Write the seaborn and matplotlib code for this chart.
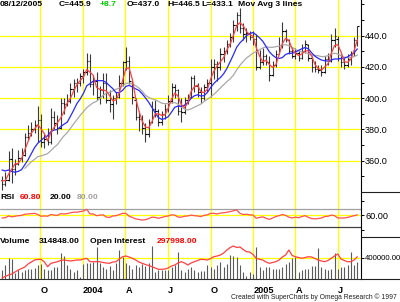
import numpy as np
import pandas as pd
import matplotlib
matplotlib.use("Agg")
import matplotlib.pyplot as plt
import matplotlib.dates as mdates
from matplotlib.lines import Line2D
from matplotlib.ticker import FixedLocator, MultipleLocator
import seaborn as sns

sns.set_theme(style="white")
plt.rcParams["font.family"] = ["Liberation Sans", "DejaVu Sans"]

# ---------------- data (weekly bars) ----------------
dates = pd.date_range("2003-07-11", periods=110, freq="7D")

opens = [348, 345, 348, 361, 355, 358, 362, 364, 375, 378,
         380, 383, 386, 372, 374, 372, 388, 384, 381, 397,
         396, 398, 406, 410, 410, 414, 417, 424, 409, 411,
         401, 405, 410, 399, 396, 400, 401, 410, 423, 424,
         410, 399, 388, 387, 381, 377, 385, 393, 392, 385,
         390, 393, 398, 407, 405, 392, 391, 399, 401, 413,
         408, 404, 400, 407, 410, 420, 422, 420, 428, 430,
         435, 439, 447, 453, 445, 441, 442, 439, 438, 420,
         423, 427, 423, 415, 421, 428, 434, 443, 437, 430,
         427, 429, 426, 430, 434, 426, 420, 419, 418, 417,
         425, 424, 437, 438, 426, 423, 421, 425, 429, 437.0]
highs = [350, 353, 366, 368, 361, 367, 368, 378, 383, 385,
         386, 395, 390, 377, 381, 394, 392, 389, 400, 400,
         403, 410, 412, 413, 416, 419, 429, 428, 415, 417,
         408, 416, 416, 405, 402, 404, 415, 424, 433, 427,
         411, 400, 392, 389, 384, 387, 398, 399, 393, 392,
         396, 402, 410, 409, 406, 400, 401, 403, 414, 415,
         410, 407, 409, 412, 425, 425, 424, 432, 433, 437,
         442, 450, 455, 458, 448, 445, 443, 443, 441, 431,
         432, 428, 427, 424, 431, 439, 449, 444, 438, 433,
         432, 431, 435, 437, 435, 427, 424, 421, 421, 427,
         429, 441, 445, 440, 428, 426, 428, 430, 439, 446.5]
lows = [341, 344, 347, 346, 351, 357, 359, 363, 373, 376,
        378, 372, 369, 368, 370, 371, 380, 377, 380, 390,
        395, 397, 401, 404, 408, 410, 415, 407, 402, 399,
        396, 400, 397, 391, 387, 396, 400, 408, 418, 409,
        396, 386, 379, 377, 372, 375, 384, 388, 382, 383,
        387, 391, 397, 400, 389, 385, 390, 396, 400, 404,
        401, 397, 399, 404, 401, 412, 411, 418, 423, 428,
        433, 436, 443, 442, 437, 436, 437, 434, 418, 419,
        421, 421, 411, 414, 420, 428, 432, 436, 428, 426,
        425, 424, 425, 429, 424, 417, 417, 416, 414, 416,
        421, 423, 433, 424, 420, 419, 420, 421, 427, 433.1]
closes = [345, 348, 361, 355, 358, 362, 364, 375, 378, 380,
          383, 386, 372, 374, 372, 388, 384, 381, 397, 396,
          398, 406, 410, 410, 414, 417, 424, 409, 411, 401,
          405, 410, 399, 396, 400, 401, 410, 423, 424, 411,
          401, 388, 387, 381, 377, 385, 393, 392, 385, 390,
          393, 398, 407, 405, 392, 391, 399, 401, 413, 408,
          404, 400, 407, 410, 420, 422, 420, 428, 430, 435,
          439, 447, 453, 445, 441, 442, 439, 438, 420, 423,
          427, 423, 415, 421, 428, 434, 443, 438, 430, 427,
          429, 426, 430, 435, 426, 420, 419, 418, 417, 425,
          424, 437, 440, 426, 423, 421, 425, 429, 437.2, 445.9]
# closes of the ten weeks before the window (lead-in for the moving averages)
prior_closes = [340, 343, 354, 355, 364, 362, 357, 354, 347, 349]
ma_periods = [3, 9, 18]

rsi = [50, 51, 57, 54, 56, 58, 59, 63, 64, 65,
       66, 62, 56, 57, 56, 62, 60, 59, 65, 64,
       65, 68, 70, 70, 72, 74, 80, 64, 64, 58,
       60, 61, 53, 52, 57, 58, 62, 66, 66, 56,
       52, 47, 45, 43, 44, 48, 53, 52, 49, 52,
       55, 57, 61, 60, 53, 53, 56, 57, 60, 58,
       57, 55, 59, 61, 66, 66, 64, 67, 68, 70,
       72, 75, 78, 66, 62, 63, 61, 60, 49, 52,
       54, 49, 45, 50, 55, 58, 62, 59, 53, 50,
       53, 51, 55, 58, 52, 48, 47, 48, 50, 55,
       56, 60, 58, 50, 50, 50, 52, 55, 58, 60.8]

volume_k = [169, 260, 390, 380, 113, 169, 138, 169, 200, 190,
            210, 263, 280, 200, 169, 180, 232, 232, 480, 432,
            263, 200, 138, 169, 50, 290, 295, 295, 325, 607,
            295, 232, 200, 245, 169, 295, 544, 407, 295, 263,
            200, 263, 232, 280, 245, 295, 610, 138, 169, 180,
            169, 180, 232, 263, 500, 169, 138, 200, 232, 169,
            138, 150, 150, 263, 232, 200, 263, 325, 232, 290,
            450, 430, 420, 263, 138, 56, 138, 100, 607, 232,
            169, 232, 232, 200, 200, 200, 232, 280, 325, 400,
            420, 138, 169, 185, 185, 250, 250, 576, 232, 200,
            169, 200, 482, 200, 232, 232, 263, 513, 263, 314.848]

open_interest_k = [151, 161.4, 171.7, 178.6, 192.4, 206.2, 216.6, 226.9, 247.6, 261.4,
                   275.2, 278.7, 280.1, 261.4, 229, 252.5, 258, 263.5, 271.8, 275.2,
                   271.8, 268.3, 271.8, 275.2, 275.2, 282.1, 287, 263.5, 263.5, 263.5,
                   263.5, 258, 254.5, 252.5, 261.4, 263.5, 282.1, 298, 302.8, 295.9,
                   287, 275.2, 261.4, 252.5, 244.2, 237.3, 229, 220, 211, 211,
                   213.1, 220, 233.8, 240.7, 254.5, 263.5, 254.5, 240.7, 254.5, 263.5,
                   271.8, 280.1, 278.7, 275.2, 285.6, 298, 302.8, 309.7, 323.5, 344.2,
                   361.5, 371.8, 361.5, 364.9, 347.7, 332.5, 330.4, 313.2, 287, 280.1,
                   275.2, 261.4, 252.5, 258, 263.5, 275.2, 295.9, 309.7, 344.2, 306.3,
                   298, 292.5, 287, 292.5, 298, 295.9, 285.6, 275.2, 268.3, 263.5,
                   271.8, 287, 302.8, 316.6, 282.1, 271.8, 263.5, 263.5, 275.2, 297.998]

quarter_dates = ["2003-10-01", "2004-01-01", "2004-04-01", "2004-07-01",
                 "2004-10-01", "2005-01-01", "2005-04-01", "2005-07-01"]
quarter_labels = ["O", "2004", "A", "J", "O", "2005", "A", "J"]
price_ticks = [360, 380, 400, 420, 440]

# ---------------- derived series ----------------
full_close = pd.Series(prior_closes + closes, dtype=float)
mas = [full_close.rolling(p).mean().iloc[len(prior_closes):].to_numpy() for p in ma_periods]
ma_colors = ["#FF4040", "#2828FF", "#A8A8A8"]

# ---------------- figure layout (pixel based) ----------------
W, H = 400, 302
fig = plt.figure(figsize=(W / 100, H / 100), dpi=100)
fig.patch.set_facecolor("white")


def rect(x0, y0, x1, y1):
    return [x0 / W, 1 - y1 / H, (x1 - x0) / W, (y1 - y0) / H]


ax_p = fig.add_axes(rect(0, 0, 361, 191.7))
ax_r = fig.add_axes(rect(0, 191.7, 361, 236.7))
ax_v = fig.add_axes(rect(0, 236.7, 361, 279.3))

# open-interest overlay on its own scale (created first so its twinx call
# does not move the volume ticks afterwards)
ax_oi = ax_v.twinx()

d0 = mdates.date2num(dates[0])
xlim = (d0 - 4.3, d0 + 770.9)
qnums = mdates.date2num(pd.to_datetime(quarter_dates))
YEL = "#FFFF00"

for ax in (ax_p, ax_r, ax_v):
    ax.set_facecolor("white")
    ax.set_xlim(*xlim)
    ax.xaxis.set_major_locator(FixedLocator(qnums))
    ax.grid(True, which="major", color=YEL, lw=0.9)
    ax.set_axisbelow(True)
    for s in ("top", "left", "bottom"):
        ax.spines[s].set_visible(False)
    ax.spines["right"].set_visible(True)
    ax.spines["right"].set_color("black")
    ax.spines["right"].set_linewidth(0.8)
    ax.yaxis.tick_right()
    ax.tick_params(axis="y", which="both", direction="out", length=2.5, width=0.7,
                   colors="black", pad=0.5, labelsize=6.6, labelleft=False, labelright=True,
                   left=False, right=True)
    ax.tick_params(axis="y", which="minor", length=2.0)

# ---------------- price panel ----------------
ax_p.vlines(dates, lows, highs, color="#3a3a3a", lw=0.8, zorder=2)
tick_w = pd.Timedelta(days=3.0)
ax_p.hlines(opens, dates - tick_w, dates, color="black", lw=0.8, zorder=2)
ax_p.hlines(closes, dates, dates + tick_w, color="black", lw=0.8, zorder=2)
for ma, col in zip(mas[::-1], ma_colors[::-1]):
    ok = ~np.isnan(ma)
    sns.lineplot(x=dates[ok], y=ma[ok], ax=ax_p, color=col, lw=0.9, zorder=3)
ax_p.set_ylim(340.2, 462.85)
ax_p.set_yticks(price_ticks)
ax_p.set_yticklabels([f"{v:.1f}" for v in price_ticks])
ax_p.yaxis.set_minor_locator(MultipleLocator(10))
ax_p.tick_params(axis="x", length=0, labelbottom=False)

# ---------------- RSI panel ----------------
ax_r.axhline(80, color="#A0A0A0", lw=0.9, zorder=1.5)
ax_r.axhline(20, color="#404040", lw=0.9, zorder=1.5)
sns.lineplot(x=dates, y=rsi, ax=ax_r, color="#FF5050", lw=0.9, zorder=3)
ax_r.set_ylim(-14.5, 140.7)
ax_r.set_yticks([60])
ax_r.set_yticklabels(["60.00"])
ax_r.yaxis.set_minor_locator(FixedLocator([10, 110]))
ax_r.tick_params(axis="x", length=0, labelbottom=False)

# ---------------- volume / open interest panel ----------------
ax_v.vlines(dates, 0, np.array(volume_k) * 1000, color="#5a5a5a", lw=0.8, zorder=2)
ax_v.set_ylim(0, 789000)
ax_v.set_yticks([400000])
ax_v.set_yticklabels(["400000.00"])
ax_v.tick_params(axis="y", labelsize=5.6, pad=0.3)
ax_v.spines["bottom"].set_visible(True)
ax_v.spines["bottom"].set_color("#303030")
ax_v.spines["bottom"].set_linewidth(0.8)
ax_v.set_xticks(qnums)
ax_v.set_xticklabels(quarter_labels, ha="left", fontweight="bold", fontsize=6.6)
ax_v.tick_params(axis="x", direction="out", length=3.0, width=0.7, colors="black", pad=1.5)

sns.lineplot(x=dates, y=np.array(open_interest_k) * 1000, ax=ax_oi, color="#FF4040", lw=0.9)
ax_oi.set_ylim(142100, 436000)
ax_oi.set_yticks([])
ax_oi.tick_params(axis="both", length=0, labelleft=False, labelright=False,
                  labelbottom=False, labeltop=False)
ax_oi.grid(False)
for s in ax_oi.spines.values():
    s.set_visible(False)
ax_oi.set_xlim(*xlim)

for ax in (ax_p, ax_r, ax_v, ax_oi):
    ax.set_xlabel("")
    ax.set_ylabel("")

# separators in the right margin
for yy in (191.7, 236.7, 279.3):
    fig.add_artist(Line2D([361 / W, 1.0], [1 - yy / H] * 2, color="#202020", lw=0.8,
                          transform=fig.transFigure))


def txt(x, y, s, color="black", weight="bold", size=6.1):
    fig.text(x / W, 1 - y / H, s, color=color, fontweight=weight, fontsize=size,
             ha="left", va="center")


# header
txt(0, 5, "08/12/2005")
txt(59, 5, "C=445.9")
txt(100, 5, "+8.7", color="#00D000")
txt(127, 5, "O=437.0")
txt(167, 5, "H=446.5")
txt(201, 5, "L=433.1")
txt(238, 5, "Mov Avg 3 lines")
# RSI labels
txt(0, 197.5, "RSI")
txt(20, 197.5, "60.80", color="#FF0000")
txt(50, 197.5, "20.00")
txt(77, 197.5, "80.00", color="#A0A0A0")
# volume labels
txt(0, 241.5, "Volume")
txt(39, 241.5, "314848.00")
txt(90, 241.5, "Open Interest")
txt(157, 241.5, "297998.00", color="#FF0000")
# footer
txt(231, 297, "Created with SuperCharts by Omega Research \u00a9 1997", color="#202020",
    weight="normal", size=4.85)

fig.savefig("out.png", dpi=100, facecolor="white")
